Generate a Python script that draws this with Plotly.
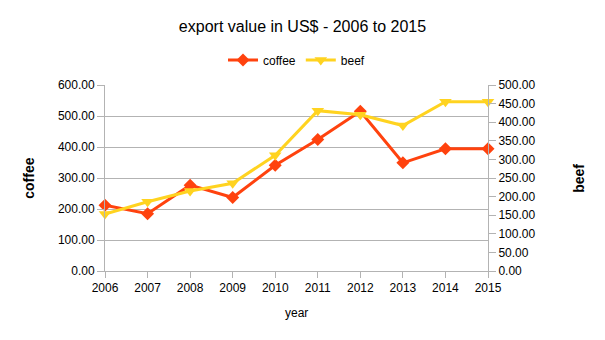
import plotly.graph_objects as go

years = [2006, 2007, 2008, 2009, 2010, 2011, 2012, 2013, 2014, 2015]
coffee = [212, 185, 277, 237, 341, 424, 515, 349, 394, 394]
beef = [153, 186, 215, 236, 311, 431, 420, 391, 455, 455]

FONT = "Liberation Sans, Arial, sans-serif"
GRID = "#b3b3b3"

fig = go.Figure()
fig.add_trace(go.Scatter(
    x=years, y=coffee, name="coffee", mode="lines+markers",
    line=dict(color="#ff420e", width=3),
    marker=dict(symbol="diamond", size=10, color="#ff420e"),
    cliponaxis=False,
))
fig.add_trace(go.Scatter(
    x=years, y=beef, name="beef", mode="lines+markers", yaxis="y2",
    line=dict(color="#ffd320", width=3),
    marker=dict(symbol="triangle-down", size=11, color="#ffd320"),
    cliponaxis=False,
))

fig.update_layout(
    width=605, height=340,
    margin=dict(l=105, r=117, t=85, b=69),
    paper_bgcolor="white", plot_bgcolor="white",
    font=dict(family=FONT, size=12, color="#000000"),
    title=dict(text="export value in US$ - 2006 to 2015", x=0.5, xanchor="center",
               y=0.922, yanchor="middle", font=dict(size=16, color="#000000")),
    legend=dict(orientation="h", x=0.5, xanchor="center", y=1.135, yanchor="middle",
                font=dict(size=12), itemwidth=30, bgcolor="rgba(0,0,0,0)"),
    showlegend=True,
    xaxis=dict(range=[2006, 2015], tickmode="array", tickvals=years,
               ticktext=[str(y) for y in years],
               showgrid=False, zeroline=False, showline=True, linecolor=GRID,
               ticks="outside", ticklen=6, tickcolor=GRID, tickfont=dict(size=12)),
    yaxis=dict(range=[0, 600], dtick=100, tickformat=".2f", showgrid=True, gridcolor=GRID,
               zeroline=False, showline=True, linecolor=GRID, ticks="outside",
               ticklen=7, tickcolor=GRID, tickfont=dict(size=12)),
    yaxis2=dict(range=[0, 500], dtick=50, tickformat=".2f", overlaying="y", side="right",
                showgrid=False, zeroline=False, showline=True, linecolor=GRID,
                ticks="outside", ticklen=7, tickcolor=GRID, tickfont=dict(size=12)),
    annotations=[
        dict(text="<b>coffee</b>", xref="paper", yref="paper", x=-0.199, y=0.5,
             showarrow=False, textangle=-90,
             font=dict(size=14, family=FONT, color="#000000"),
             xanchor="center", yanchor="middle"),
        dict(text="<b>beef</b>", xref="paper", yref="paper", x=1.237, y=0.5,
             showarrow=False, textangle=-90,
             font=dict(size=14, family=FONT, color="#000000"),
             xanchor="center", yanchor="middle"),
        dict(text="year", xref="paper", yref="paper", x=0.5, y=-0.225, showarrow=False,
             font=dict(size=12, family=FONT, color="#000000"),
             xanchor="center", yanchor="middle"),
    ],
)

fig.write_html("out.html")
